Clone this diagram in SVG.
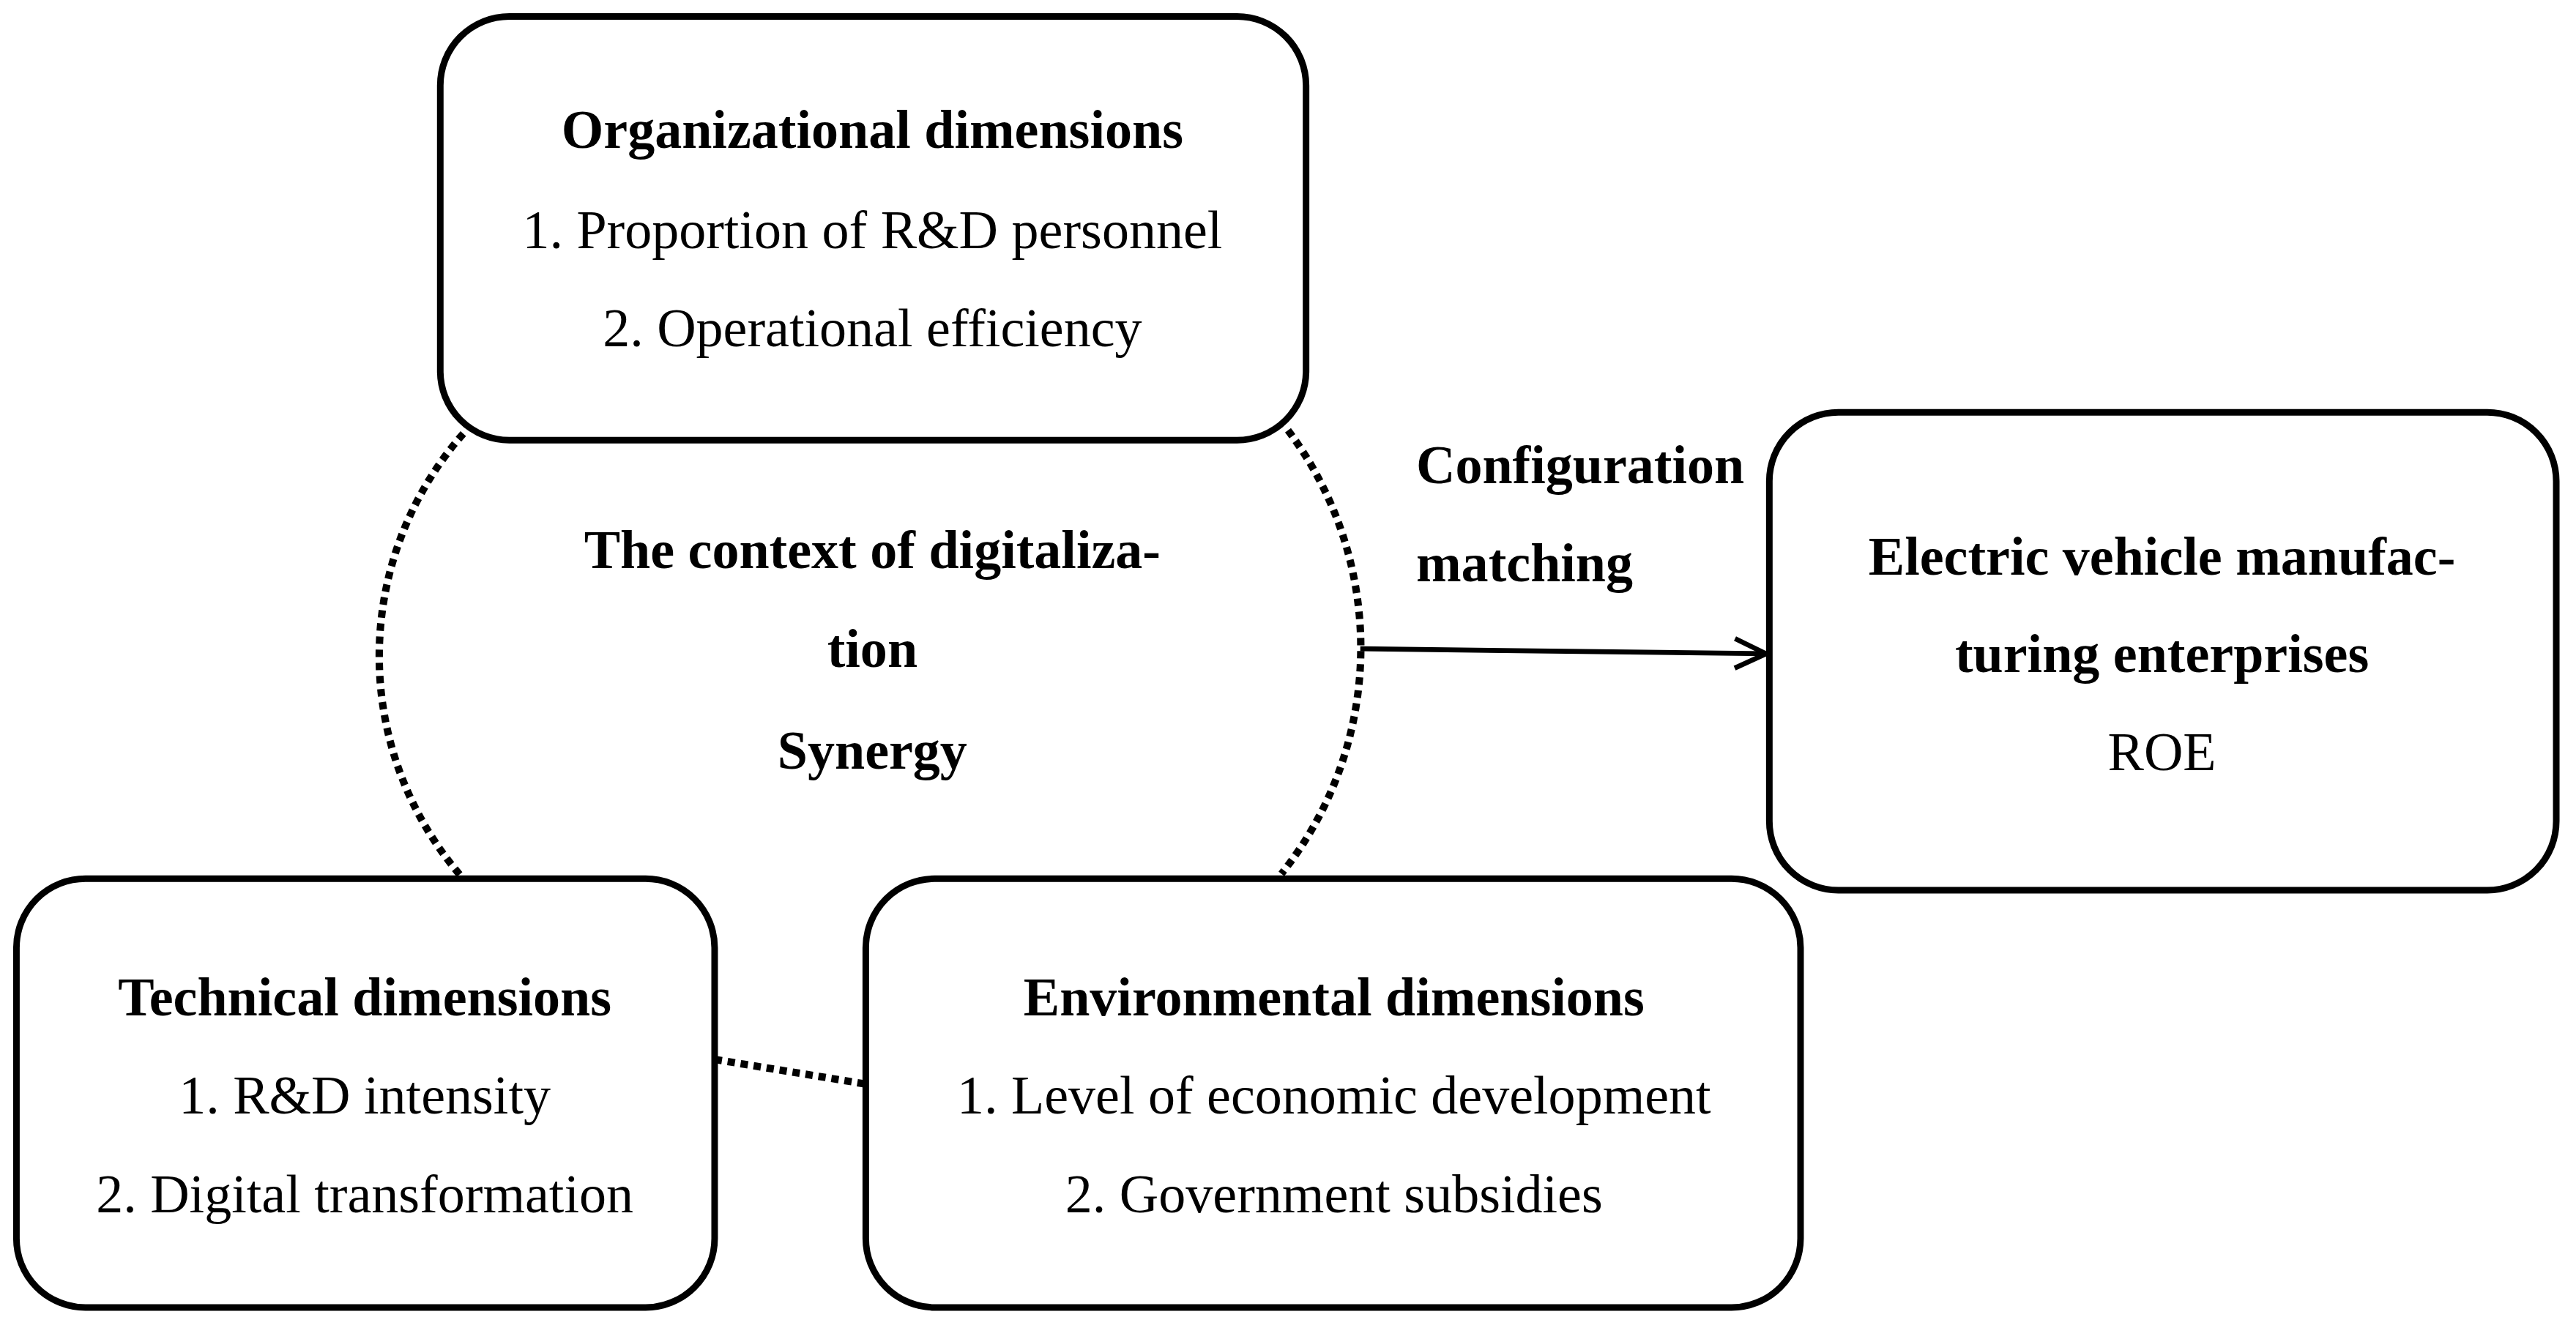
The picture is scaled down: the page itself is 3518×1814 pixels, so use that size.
<svg xmlns="http://www.w3.org/2000/svg" width="3518" height="1814" viewBox="0 0 3518 1814">
<defs>
<style>
.box{fill:#fff;stroke:#000;stroke-width:4}
.t{font-family:"Liberation Serif","Times New Roman",serif;font-size:33px;fill:#000;text-anchor:middle}
.b{font-weight:bold}
.dot{fill:none;stroke:#000;stroke-width:4.5;stroke-dasharray:4.5 3.5}
</style>
<marker id="ah" markerWidth="24" markerHeight="24" refX="21" refY="12" orient="auto" markerUnits="userSpaceOnUse"><path d="M2,3 L21,12 L2,21" fill="none" stroke="#000" stroke-width="3"/></marker>
</defs>
<rect width="3518" height="1814" fill="#fff"/>
<g transform="scale(2.2436)">
<g id="connectors">
<path class="dot" d="M282,264 A205,205 0 0 0 282,535"/>
<path class="dot" d="M784,262 A220,220 0 0 1 780,532"/>
<path class="dot" d="M435,645 L527,660"/>
<path d="M828,395 L1075,398" fill="none" stroke="#000" stroke-width="3" marker-end="url(#ah)"/>
</g>
<g id="org">
<rect class="box" x="268" y="10" width="527" height="258" rx="42"/>
<text class="t b" x="531" y="90">Organizational dimensions</text>
<text class="t" x="531" y="151">1. Proportion of R&amp;D personnel</text>
<text class="t" x="531" y="211">2. Operational efficiency</text>
</g>
<g id="center">
<text class="t b" x="531" y="346">The context of digitaliza-</text>
<text class="t b" x="531" y="406">tion</text>
<text class="t b" x="531" y="468">Synergy</text>
</g>
<g id="config">
<text class="t b" x="862" y="294" style="text-anchor:start">Configuration</text>
<text class="t b" x="862" y="354" style="text-anchor:start">matching</text>
</g>
<g id="ev">
<rect class="box" x="1077" y="251" width="479" height="291" rx="42"/>
<text class="t b" x="1316" y="350">Electric vehicle manufac-</text>
<text class="t b" x="1316" y="409">turing enterprises</text>
<text class="t" x="1316" y="469">ROE</text>
</g>
<g id="tech">
<rect class="box" x="10" y="535" width="425" height="261" rx="42"/>
<text class="t b" x="222" y="618">Technical dimensions</text>
<text class="t" x="222" y="678">1. R&amp;D intensity</text>
<text class="t" x="222" y="738">2. Digital transformation</text>
</g>
<g id="env">
<rect class="box" x="527" y="535" width="569" height="261" rx="42"/>
<text class="t b" x="812" y="618">Environmental dimensions</text>
<text class="t" x="812" y="678">1. Level of economic development</text>
<text class="t" x="812" y="738">2. Government subsidies</text>
</g>
</g>
</svg>
